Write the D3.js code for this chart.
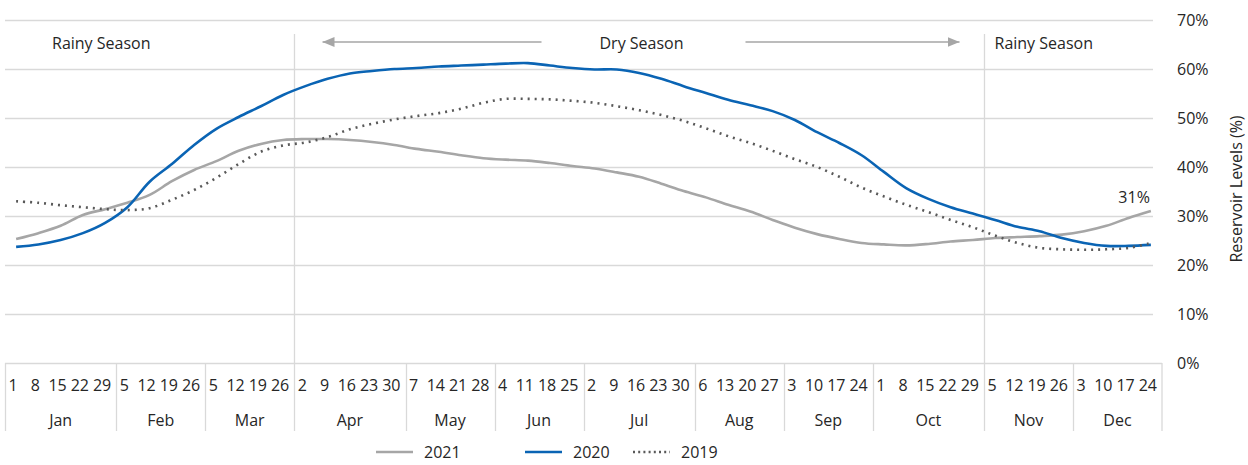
<!DOCTYPE html>
<html>
<head>
<meta charset="utf-8">
<script src="https://cdn.jsdelivr.net/npm/d3@7"></script>
<style>
  html, body { margin: 0; padding: 0; background: #fff; }
  svg { display: block; font-family: "Open Sans", Lato, sans-serif; }
</style>
</head>
<body>
<svg id="chart" width="1248" height="465"></svg>
<script>
// Weekly reservoir levels (%), 52 weeks per year
const months = ["Jan","Feb","Mar","Apr","May","Jun","Jul","Aug","Sep","Oct","Nov","Dec"];
const weekDays = [
  [1,8,15,22,29],[5,12,19,26],[5,12,19,26],[2,9,16,23,30],
  [7,14,21,28],[4,11,18,25],[2,9,16,23,30],[6,13,20,27],
  [3,10,17,24],[1,8,15,22,29],[5,12,19,26],[3,10,17,24]
];
const yTicks = [0,10,20,30,40,50,60,70];

const levels2021 = [
  25.3,26.5,28.0,30.2,31.4,32.7,34.3,37.1,39.4,41.2,43.3,44.7,45.5,
  45.7,45.7,45.5,45.1,44.5,43.7,43.1,42.4,41.8,41.5,41.3,40.8,40.2,
  39.7,38.9,38.0,36.6,35.1,33.8,32.3,30.9,29.2,27.6,26.3,25.3,24.5,
  24.2,24.0,24.3,24.8,25.1,25.5,25.7,25.9,26.2,26.9,28.0,29.6,31.0
];
const levels2020 = [
  23.7,24.2,25.1,26.5,28.6,31.8,37.0,40.6,44.5,47.8,50.2,52.4,54.7,
  56.5,58.0,59.1,59.6,60.0,60.2,60.5,60.7,60.9,61.1,61.2,60.7,60.2,
  59.9,59.9,59.2,58.0,56.5,55.1,53.7,52.6,51.4,49.6,47.1,44.9,42.4,
  39.0,35.7,33.5,31.8,30.5,29.2,27.8,26.9,25.5,24.5,23.9,23.9,24.1
];
const levels2019 = [
  33.0,32.7,32.2,31.8,31.4,31.2,31.6,33.3,35.3,37.8,40.6,43.1,44.4,
  45.0,46.1,47.7,48.8,49.7,50.4,51.0,51.9,53.1,53.9,53.9,53.8,53.5,
  53.1,52.4,51.6,50.6,49.4,47.9,46.3,44.9,43.3,41.6,40.0,38.0,35.8,
  34.0,32.3,30.8,29.2,27.7,26.0,24.5,23.5,23.2,23.1,23.2,23.5,24.5
];

const seriesList = [
  { name: "2021", values: levels2021, color: "#a6a6a6", dash: null },
  { name: "2020", values: levels2020, color: "#0a64b4", dash: null },
  { name: "2019", values: levels2019, color: "#595959", dash: "2 5" }
];

const svg = d3.select("#chart");
const textColor = "#262626";
const gridColor = "#d9d9d9";
const fontSize = "16px";

// flat list of weeks with their month index
const weeks = [];
weekDays.forEach((days, m) => days.forEach(d => weeks.push({ m, d })));

const x = d3.scaleBand().domain(d3.range(weeks.length)).range([5, 1162]).padding(0);
const y = d3.scaleLinear().domain([0, 70]).range([363, 20]);
const xc = i => x(i) + x.bandwidth() / 2;

// horizontal gridlines
svg.append("g").selectAll("line").data(yTicks.filter(t => t > 0)).join("line")
  .attr("x1", 5).attr("x2", 1153)
  .attr("y1", d => Math.round(y(d)) + 0.5).attr("y2", d => Math.round(y(d)) + 0.5)
  .attr("stroke", gridColor).attr("stroke-width", 1.3);

// right value axis
const yAxis = d3.axisRight(y).tickValues(yTicks).tickFormat(d => d + "%").tickSize(0).tickPadding(0);
const yg = svg.append("g").attr("transform", "translate(1177,0)").call(yAxis);
yg.select(".domain").remove();
yg.selectAll("text").attr("fill", textColor).style("font-size", fontSize)
  .style("font-family", "'Open Sans', Lato, sans-serif").attr("dy", "0.35em");

svg.append("text")
  .attr("transform", "translate(1242,189) rotate(-90)")
  .attr("text-anchor", "middle")
  .attr("fill", textColor).style("font-size", fontSize)
  .text("Reservoir Levels (%)");

// category axis box: baseline, month dividers, week and month labels
svg.append("line").attr("x1", 5).attr("x2", 1162).attr("y1", 363.5).attr("y2", 363.5)
  .attr("stroke", gridColor).attr("stroke-width", 1.3);

let start = 0;
const monthSpans = weekDays.map((days, m) => {
  const s = { m, start, end: start + days.length };
  start += days.length;
  return s;
});
const boundaries = [0, ...monthSpans.map(s => s.end)];
svg.append("g").selectAll("line").data(boundaries).join("line")
  .attr("x1", i => i === weeks.length ? 1162 : Math.round(x(i)) + 0.5)
  .attr("x2", i => i === weeks.length ? 1162 : Math.round(x(i)) + 0.5)
  .attr("y1", 363).attr("y2", 431)
  .attr("stroke", gridColor).attr("stroke-width", 1.3);

svg.append("g").selectAll("text").data(weeks).join("text")
  .attr("x", (d, i) => xc(i) - 3).attr("y", 391)
  .attr("text-anchor", "middle").attr("fill", textColor).style("font-size", fontSize)
  .text(d => d.d);

svg.append("g").selectAll("text").data(monthSpans).join("text")
  .attr("x", s => (x(s.start) + (s.end === weeks.length ? 1162 : x(s.end))) / 2)
  .attr("y", 426).attr("text-anchor", "middle").attr("fill", textColor).style("font-size", fontSize)
  .text(s => months[s.m]);

// season markers
const xApr = Math.round(x(weeks.findIndex(w => w.m === 3))) + 0.5;
const xNov = Math.round(x(weeks.findIndex(w => w.m === 10))) + 0.5;
svg.append("g").selectAll("line").data([xApr, xNov]).join("line")
  .attr("x1", d => d).attr("x2", d => d).attr("y1", 34).attr("y2", 363)
  .attr("stroke", gridColor).attr("stroke-width", 1.3);

const seasonY = 43;
svg.append("text").attr("x", 52).attr("y", seasonY).attr("dy", "0.35em")
  .attr("fill", textColor).style("font-size", fontSize).text("Rainy Season");
svg.append("text").attr("x", xNov + 10).attr("y", seasonY).attr("dy", "0.35em")
  .attr("fill", textColor).style("font-size", fontSize).text("Rainy Season");
const midDry = (xApr + xNov) / 2 + 2;
svg.append("text").attr("x", midDry).attr("y", seasonY).attr("dy", "0.35em")
  .attr("text-anchor", "middle").attr("fill", textColor).style("font-size", fontSize).text("Dry Season");

const arrowColor = "#a6a6a6";
const defs = svg.append("defs");
defs.append("marker").attr("id", "arrowHead").attr("viewBox", "0 0 12 10")
  .attr("refX", 12).attr("refY", 5).attr("markerWidth", 12).attr("markerHeight", 10)
  .attr("markerUnits", "userSpaceOnUse").attr("orient", "auto")
  .append("path").attr("d", "M0,0 L12,5 L0,10 Z").attr("fill", arrowColor);

svg.append("line").attr("x1", midDry - 100).attr("x2", xApr + 28)
  .attr("y1", seasonY - 1).attr("y2", seasonY - 1)
  .attr("stroke", arrowColor).attr("stroke-width", 1.5).attr("marker-end", "url(#arrowHead)");
svg.append("line").attr("x1", midDry + 104).attr("x2", xNov - 25)
  .attr("y1", seasonY - 1).attr("y2", seasonY - 1)
  .attr("stroke", arrowColor).attr("stroke-width", 1.5).attr("marker-end", "url(#arrowHead)");

// series lines
const line = d3.line().x((d, i) => xc(i)).y(d => y(d)).curve(d3.curveCatmullRom.alpha(0.5));
svg.append("g").selectAll("path").data(seriesList).join("path")
  .attr("d", s => line(s.values))
  .attr("fill", "none").attr("stroke", s => s.color)
  .attr("stroke-width", 2.6)
  .attr("stroke-dasharray", s => s.dash)
  .attr("stroke-linejoin", "round");

// end value label for 2021
const last2021 = levels2021[levels2021.length - 1];
svg.append("text").attr("x", xc(levels2021.length - 1) - 1).attr("y", y(last2021) - 8)
  .attr("text-anchor", "end").attr("fill", textColor).style("font-size", fontSize)
  .text(d3.format(".0f")(last2021) + "%");

// legend
const legend = svg.append("g").selectAll("g").data(seriesList).join("g")
  .attr("transform", (s, i) => `translate(${[376, 525, 633][i]},452)`);
legend.append("line").attr("x1", 0).attr("x2", 37).attr("y1", 0).attr("y2", 0)
  .attr("stroke", s => s.color).attr("stroke-width", 2.6)
  .attr("stroke-dasharray", s => s.dash ? "2 3.2" : null);
legend.append("text").attr("x", 48).attr("y", 0).attr("dy", "0.35em")
  .attr("fill", textColor).style("font-size", fontSize).text(s => s.name);
</script>
</body>
</html>
